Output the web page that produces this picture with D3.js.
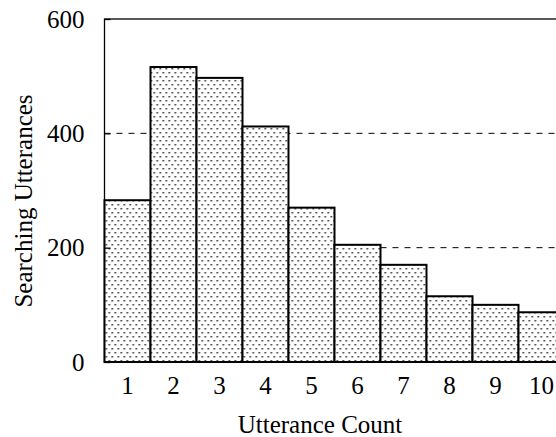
<!DOCTYPE html>
<html>
<head>
<meta charset="utf-8">
<script src="https://cdn.jsdelivr.net/npm/d3@7"></script>
<style>
  body { margin: 0; background: #fff; }
  svg { display: block; font-family: "Liberation Serif", "Times New Roman", serif; }
</style>
</head>
<body>
<div class="chart"></div>
<script>
  // data
  const counts = ["1", "2", "3", "4", "5", "6", "7", "8", "9", "10"];
  const utterances = [283, 516, 497, 412, 270, 205, 170, 115, 100, 87];
  const yTicks = [0, 200, 400, 600];
  const gridValues = [200, 400];

  const serif = '"Liberation Serif", "Times New Roman", serif';

  // plot box (right side runs past the window, as in the original crop)
  const margin = {top: 19, left: 104.5, bottom: 75},
        width = 460,
        height = 437 - margin.top - margin.bottom;

  const svg = d3.select(".chart")
    .append("svg")
    .attr("width", 556)
    .attr("height", 437);

  // dotted fill
  const pat = svg.append("defs").append("pattern")
    .attr("id", "dots")
    .attr("patternUnits", "userSpaceOnUse")
    .attr("width", 6)
    .attr("height", 8);
  pat.append("rect").attr("width", 6).attr("height", 8).attr("fill", "#fff");
  pat.append("rect").attr("x", 1).attr("y", 1).attr("width", 1.5).attr("height", 1.5).attr("fill", "#222");
  pat.append("rect").attr("x", 4).attr("y", 5).attr("width", 1.5).attr("height", 1.5).attr("fill", "#222");

  const g = svg.append("g")
    .attr("transform", "translate(" + margin.left + "," + margin.top + ")");

  const x = d3.scaleBand()
    .domain(counts)
    .range([0, width])
    .padding(0);

  const y = d3.scaleLinear()
    .domain([0, 600])
    .range([height, 0]);

  // dashed grid behind the bars
  g.selectAll(".grid")
    .data(gridValues)
    .enter()
    .append("line")
    .attr("x1", 0)
    .attr("x2", width)
    .attr("y1", d => y(d))
    .attr("y2", d => y(d))
    .attr("stroke", "#000")
    .attr("stroke-width", 1)
    .attr("stroke-dasharray", "6,6");

  // frame
  g.append("rect")
    .attr("width", width)
    .attr("height", height)
    .attr("fill", "none")
    .attr("stroke", "#000")
    .attr("stroke-width", 1.3);

  // bars
  g.selectAll(".bar")
    .data(utterances)
    .enter()
    .append("rect")
    .attr("x", (d, i) => x(counts[i]))
    .attr("y", d => y(d))
    .attr("width", x.bandwidth())
    .attr("height", d => height - y(d))
    .attr("fill", "url(#dots)")
    .attr("stroke", "#000")
    .attr("stroke-width", 2);

  // y axis: inward ticks, labels on the left
  const yAxis = g.append("g")
    .call(d3.axisLeft(y).tickValues(yTicks).tickSizeInner(-6).tickSizeOuter(0).tickPadding(20));
  yAxis.attr("font-family", serif);
  yAxis.select(".domain").remove();
  yAxis.selectAll("line").attr("stroke", "#000").attr("stroke-width", 1.3);
  yAxis.selectAll("text")
    .attr("font-size", "25px")
    .attr("fill", "#000")
    .attr("dy", "0.33em");

  // x axis labels, no ticks
  const xAxis = g.append("g")
    .attr("transform", "translate(0," + height + ")")
    .call(d3.axisBottom(x).tickSize(0).tickPadding(14));
  xAxis.attr("font-family", serif);
  xAxis.select(".domain").remove();
  xAxis.selectAll("text")
    .attr("font-size", "25px")
    .attr("fill", "#000")
    .attr("dy", "0.71em");

  // axis titles
  svg.append("text")
    .attr("x", 320)
    .attr("y", 433)
    .attr("text-anchor", "middle")
    .attr("font-size", "25px")
    .text("Utterance Count");

  svg.append("text")
    .attr("transform", "translate(32,201) rotate(-90)")
    .attr("text-anchor", "middle")
    .attr("font-size", "25px")
    .text("Searching Utterances");
</script>
</body>
</html>
